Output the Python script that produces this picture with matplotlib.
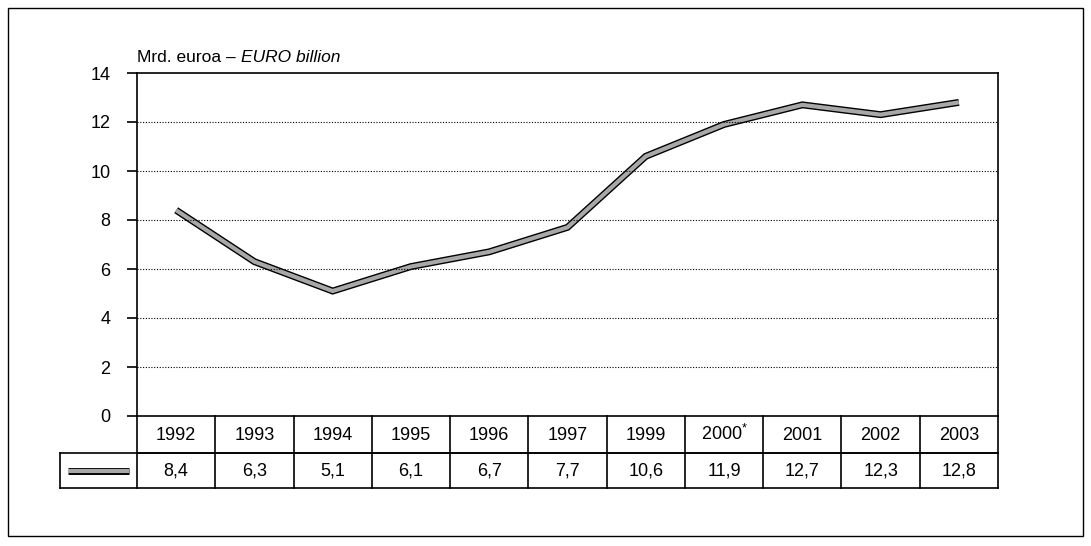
import matplotlib
matplotlib.use("Agg")
import matplotlib.pyplot as plt
from matplotlib.patches import Rectangle
from matplotlib.lines import Line2D
import matplotlib.transforms as mtrans

years = ["1992", "1993", "1994", "1995", "1996", "1997", "1999", "2000$^{*}$", "2001", "2002", "2003"]
values = [8.4, 6.3, 5.1, 6.1, 6.7, 7.7, 10.6, 11.9, 12.7, 12.3, 12.8]
value_labels = ["8,4", "6,3", "5,1", "6,1", "6,7", "7,7", "10,6", "11,9", "12,7", "12,3", "12,8"]
yticks = [0, 2, 4, 6, 8, 10, 12, 14]

plt.rcParams['font.family'] = ['Liberation Sans', 'DejaVu Sans']
plt.rcParams['mathtext.fontset'] = 'custom'
plt.rcParams['mathtext.rm'] = 'Liberation Sans'
W, H = 1091, 546
fs = 13
fig = plt.figure(figsize=(W / 100, H / 100), dpi=100)

# outer frame
fig.patches.append(Rectangle((8 / W, 10 / H), 1075 / W, 528 / H, transform=fig.transFigure,
                             fill=False, lw=1.0, ec="black"))

ax = fig.add_axes([137 / W, 1 - 416 / H, 861 / W, 343 / H])
n = len(years)
x = list(range(n))
ax.plot(x, values, color="black", lw=5.0, solid_joinstyle="miter", solid_capstyle="butt")
ax.plot(x, values, color="#a8a8a8", lw=3.0, solid_joinstyle="miter", solid_capstyle="butt")

ax.set_xlim(-0.5, n - 0.5)
ax.set_ylim(0, 14)
ax.set_yticks(yticks)
ax.set_yticklabels([str(v) for v in yticks], fontsize=fs)
ax.set_xticks([])
ax.tick_params(axis="y", length=7, width=1.2, direction="out", pad=12)
for v in yticks[1:-1]:
    ax.axhline(v, color="black", lw=0.8, ls=(0, (1, 1.5)))
for s in ax.spines.values():
    s.set_linewidth(1.2)

t1 = fig.text(137 / W, 1 - 62 / H, "Mrd. euroa \u2013 ", fontsize=12.5, va="baseline", ha="left")
fig.canvas.draw()
bb = t1.get_window_extent()
fig.text(bb.x1 / W, 1 - 62 / H, "EURO billion", fontsize=12.5, style="italic",
         va="baseline", ha="left")

# data table below the axis
tr = mtrans.blended_transform_factory(ax.transData, ax.transAxes)
h1 = -37 / 343
h2 = -72 / 343
left_ext = -1.48
lk = dict(color="black", lw=1.2, clip_on=False, transform=tr)
ax.add_line(Line2D([-0.5, n - 0.5], [h1, h1], **lk))
ax.add_line(Line2D([left_ext, n - 0.5], [h1, h1], **lk))
ax.add_line(Line2D([left_ext, n - 0.5], [h2, h2], **lk))
ax.add_line(Line2D([left_ext, left_ext], [h1, h2], **lk))
for i in range(n + 1):
    ax.add_line(Line2D([i - 0.5, i - 0.5], [0, h2], **lk))
b1 = h1 / 2 - 5 / 343
b2 = (h1 + h2) / 2 - 5 / 343
for i in range(n):
    ax.text(i, b1, years[i], transform=tr, ha="center", va="baseline", fontsize=fs)
    ax.text(i, b2, value_labels[i], transform=tr, ha="center", va="baseline", fontsize=fs)

# legend key in the first value cell
ym = (h1 + h2) / 2
ax.add_line(Line2D([left_ext + 0.1, -0.6], [ym, ym], color="black", lw=5.0,
                   solid_capstyle="butt", clip_on=False, transform=tr))
ax.add_line(Line2D([left_ext + 0.1, -0.6], [ym, ym], color="#a8a8a8", lw=3.0,
                   solid_capstyle="butt", clip_on=False, transform=tr))

fig.savefig("out.png", dpi=100)
